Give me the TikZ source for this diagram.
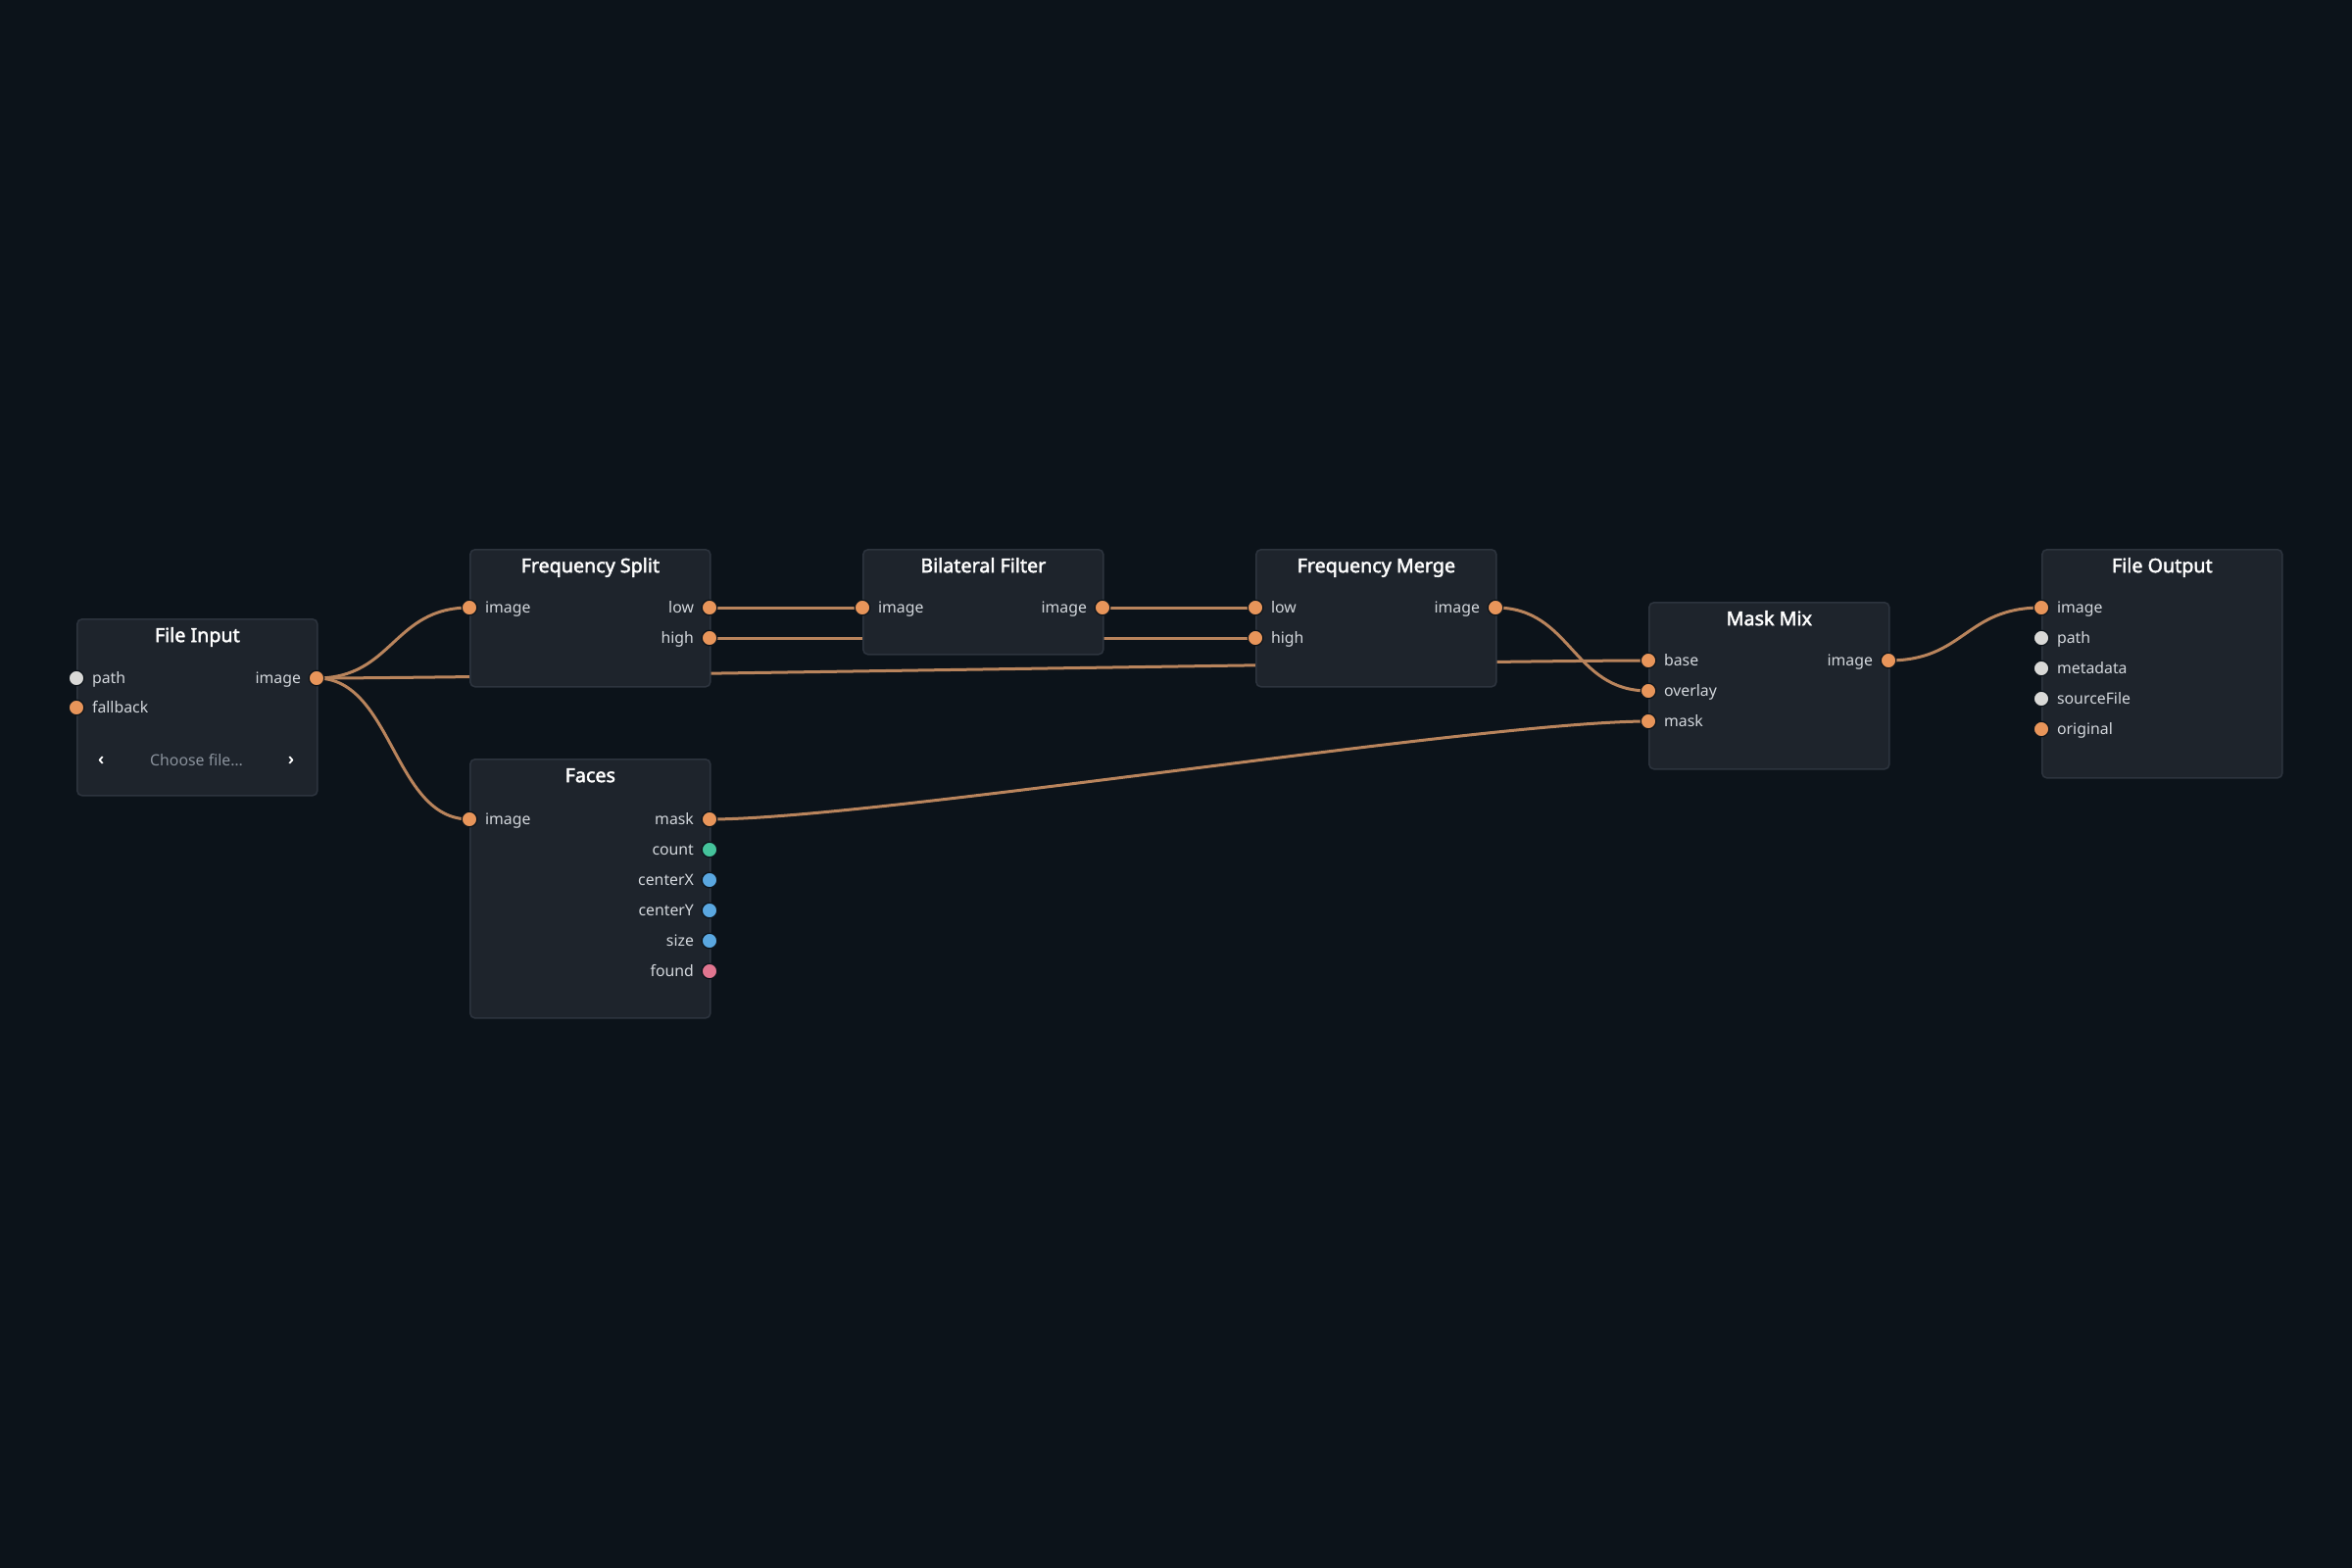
\documentclass[tikz,border=0pt]{standalone}
\usepackage{fontspec}
\setmainfont{Noto Sans}[AutoFakeBold=2.2]
\usepackage{xcolor}
\usepackage{tikz}
\usetikzlibrary{positioning}

\pgfdeclarelayer{canvas}
\pgfdeclarelayer{wires}
\pgfsetlayers{canvas,wires,main}

\definecolor{canvasbg}{HTML}{0C131A}
\definecolor{boxfill}{HTML}{1E242C}
\definecolor{boxline}{HTML}{2D343E}
\definecolor{wirecol}{HTML}{B9845C}
\definecolor{portorange}{HTML}{E8955A}
\definecolor{portgray}{HTML}{D9D9D7}
\definecolor{portgreen}{HTML}{45C39B}
\definecolor{portblue}{HTML}{5AA7E0}
\definecolor{portpink}{HTML}{E0758F}
\definecolor{labelcol}{HTML}{D3D7DC}
\definecolor{hintcol}{HTML}{8A929C}

\begin{document}
\begin{tikzpicture}[x=0.01cm, y=-0.01cm, label distance=0.07cm,
  every label/.style={text=labelcol, font=\fontsize{4.5}{5}\selectfont, inner sep=0, text height=3.85pt, text depth=0.9pt}]
\tikzstyle{nodebox} = [rectangle, rounded corners=0.05cm, draw=boxline, line width=0.015cm, fill=boxfill, minimum width=2.45cm, anchor=north west, inner sep=0]
\tikzstyle{title} = [text=white, font=\fontsize{5.6}{6}\selectfont\bfseries, inner sep=0, text height=4.2pt, text depth=1.3pt]
\tikzstyle{port} = [circle, minimum size=0.155cm, inner sep=0, draw=canvasbg, line width=0.012cm, fill=portorange]
\tikzstyle{wire} = [draw=wirecol, line width=0.03cm]

% canvas
\begin{pgfonlayer}{canvas}
\fill[canvasbg] (0,0) rectangle (2400,1600);
\end{pgfonlayer}

% boxes
\node (fin) [nodebox, minimum height=1.80cm] at (78,631) {};
\node (fsplit) [nodebox, minimum height=1.40cm] at (479,560) {};
\node (faces) [nodebox, minimum height=2.64cm] at (479,774) {};
\node (bilat) [nodebox, minimum height=1.07cm] at (880,560) {};
\node (fmerge) [nodebox, minimum height=1.40cm] at (1281,560) {};
\node (mmix) [nodebox, minimum height=1.70cm] at (1682,614) {};
\node (fout) [nodebox, minimum height=2.33cm] at (2083,560) {};

% titles
\node (fin-title) [title] at ([yshift=-0.19cm]fin.north) {File Input};
\node (fsplit-title) [title] at ([yshift=-0.19cm]fsplit.north) {Frequency Split};
\node (faces-title) [title] at ([yshift=-0.19cm]faces.north) {Faces};
\node (bilat-title) [title] at ([yshift=-0.19cm]bilat.north) {Bilateral Filter};
\node (fmerge-title) [title] at ([yshift=-0.19cm]fmerge.north) {Frequency Merge};
\node (mmix-title) [title] at ([yshift=-0.19cm]mmix.north) {Mask Mix};
\node (fout-title) [title] at ([yshift=-0.19cm]fout.north) {File Output};

% File Input
\node (fin-path) [port, fill=portgray, label=right:path] at (78,692) {};
\node (fin-fallback) [port, label=right:fallback] at (78,722) {};
\node (fin-image) [port, label=left:image] at (323,692) {};
\node (fin-choose) [text=hintcol, font=\fontsize{4.5}{5}\selectfont, inner sep=0, text height=3.85pt, text depth=0.9pt] at (200.5,776) {Choose file…};
\node (fin-prev) [text=white, font=\fontsize{5}{5}\selectfont\bfseries, inner sep=0] at (103,776) {‹};
\node (fin-next) [text=white, font=\fontsize{5}{5}\selectfont\bfseries, inner sep=0] at (297,776) {›};

% Frequency Split
\node (fsplit-image) [port, label=right:image] at (479,620) {};
\node (fsplit-low) [port, label=left:low] at (724,620) {};
\node (fsplit-high) [port, label=left:high] at (724,651) {};

% Faces
\node (faces-image) [port, label=right:image] at (479,836) {};
\node (faces-mask) [port, label=left:mask] at (724,836) {};
\node (faces-count) [port, fill=portgreen, label=left:count] at (724,867) {};
\node (faces-cx) [port, fill=portblue, label=left:centerX] at (724,898) {};
\node (faces-cy) [port, fill=portblue, label=left:centerY] at (724,929) {};
\node (faces-size) [port, fill=portblue, label=left:size] at (724,960) {};
\node (faces-found) [port, fill=portpink, label=left:found] at (724,991) {};

% Bilateral Filter
\node (bilat-in) [port, label=right:image] at (880,620) {};
\node (bilat-out) [port, label=left:image] at (1125,620) {};

% Frequency Merge
\node (fmerge-low) [port, label=right:low] at (1281,620) {};
\node (fmerge-high) [port, label=right:high] at (1281,651) {};
\node (fmerge-image) [port, label=left:image] at (1526,620) {};

% Mask Mix
\node (mmix-base) [port, label=right:base] at (1682,674) {};
\node (mmix-overlay) [port, label=right:overlay] at (1682,705) {};
\node (mmix-mask) [port, label=right:mask] at (1682,736) {};
\node (mmix-image) [port, label=left:image] at (1927,674) {};

% File Output
\node (fout-image) [port, label=right:image] at (2083,620) {};
\node (fout-path) [port, fill=portgray, label=right:path] at (2083,651) {};
\node (fout-meta) [port, fill=portgray, label=right:metadata] at (2083,682) {};
\node (fout-src) [port, fill=portgray, label=right:sourceFile] at (2083,713) {};
\node (fout-orig) [port, label=right:original] at (2083,744) {};

% wires
\begin{pgfonlayer}{wires}
\draw [wire] (fin-image.center) .. controls +(78,0) and +(-78,0) .. (fsplit-image.center);
\draw [wire] (fin-image.center) .. controls +(78,0) and +(-78,0) .. (faces-image.center);
\draw [wire] (fin-image.center) .. controls +(170,0) and +(-170,0) .. (mmix-base.center);
\draw [wire] (fsplit-low.center) -- (bilat-in.center);
\draw [wire] (bilat-out.center) -- (fmerge-low.center);
\draw [wire] (fsplit-high.center) -- (fmerge-high.center);
\draw [wire] (fmerge-image.center) .. controls +(78,0) and +(-78,0) .. (mmix-overlay.center);
\draw [wire] (faces-mask.center) .. controls +(170,0) and +(-170,0) .. (mmix-mask.center);
\draw [wire] (mmix-image.center) .. controls +(78,0) and +(-78,0) .. (fout-image.center);
\end{pgfonlayer}
\end{tikzpicture}
\end{document}
